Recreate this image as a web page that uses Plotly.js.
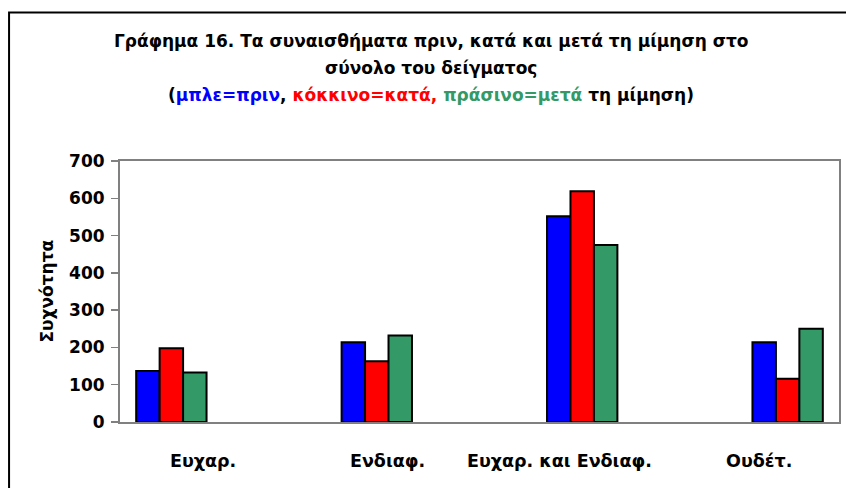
<!DOCTYPE html>
<html>
<head>
<meta charset="utf-8">
<script src="https://cdn.plot.ly/plotly-3.0.1.min.js"></script>
<style>html,body{margin:0;padding:0;background:#fff;}#chart{width:846px;height:488px;}</style>
</head>
<body>
<div id="chart"></div>
<script>
// Data
const categories = ["Ευχαρ.", "Ενδιαφ.", "Ευχαρ. και Ενδιαφ.", "Ουδέτ."];
const prin = [137, 214, 552, 214];   // μπλε = πριν
const kata = [198, 163, 619, 116];   // κόκκινο = κατά
const meta = [133, 232, 475, 250];   // πράσινο = μετά
const yTicks = [0, 100, 200, 300, 400, 500, 600, 700];

// Layout helpers (positions/styles)
const labelPaperX = [0.1154, 0.3725, 0.6116, 0.8882];
const FONT = "DejaVu Sans, Verdana, sans-serif";
const xpos = categories.map((c, i) => 2 * i);

function barTrace(vals, color, name) {
  return {
    type: "bar", x: xpos, y: vals, name: name,
    marker: {color: color, line: {color: "#000000", width: 2}},
    hoverinfo: "y"
  };
}

const data = [
  barTrace(prin, "#0000FF", "πριν"),
  barTrace(kata, "#FF0000", "κατά"),
  barTrace(meta, "#339966", "μετά")
];

const annotations = [
  {text: "Γράφημα 16. Τα συναισθήματα πριν, κατά και μετά τη μίμηση στο", y: (422 - 41.5) / 261},
  {text: "σύνολο του δείγματος", y: (422 - 68) / 261},
  {text: '(<span style="color:#0000FF">μπλε=πριν</span>, <span style="color:#FF0000">κόκκινο=κατά,</span> <span style="color:#339966">πράσινο=μετά</span> τη μίμηση)', y: (422 - 95) / 261}
].map(a => ({
  text: a.text, xref: "paper", yref: "paper", x: 0.433, y: a.y,
  xanchor: "center", yanchor: "middle", showarrow: false,
  font: {family: FONT, size: 17, color: "#000000", weight: "bold"}
}));

categories.forEach((c, i) => annotations.push({
  text: c, xref: "paper", yref: "paper", x: labelPaperX[i], y: (422 - 461) / 261,
  xanchor: "center", yanchor: "middle", showarrow: false,
  font: {family: FONT, size: 17.5, color: "#000000", weight: "bold"}
}));

annotations.push({
  text: "Συχνότητα", xref: "paper", yref: "paper", x: (46 - 120) / 719.4, y: 0.5,
  xanchor: "center", yanchor: "middle", textangle: -90, showarrow: false,
  font: {family: FONT, size: 17, color: "#000000", weight: "bold"}
});

const layout = {
  width: 846, height: 488,
  margin: {l: 120, r: 7, t: 161, b: 66, pad: 0},
  paper_bgcolor: "#FFFFFF", plot_bgcolor: "#FFFFFF",
  showlegend: false,
  barmode: "group", bargap: 0.6575, bargroupgap: 0,
  font: {family: FONT, color: "#000000"},
  xaxis: {
    type: "linear", range: [-0.5, 6.5], showticklabels: false, ticks: "",
    showgrid: false, zeroline: false, showline: true, mirror: true,
    linecolor: "#808080", linewidth: 2, fixedrange: true
  },
  yaxis: {
    range: [0, 700], tickvals: yTicks, ticktext: yTicks.map(String),
    ticks: "outside", ticklen: 7, tickwidth: 1.5, tickcolor: "#808080",
    ticklabelstandoff: 3,
    showgrid: false, zeroline: false, showline: true, mirror: true,
    linecolor: "#808080", linewidth: 2,
    tickfont: {family: FONT, size: 17, color: "#000000", weight: "bold"},
    fixedrange: true
  },
  annotations: annotations,
  shapes: [{
    type: "path", xref: "paper", yref: "paper",
    path: "M " + ((9 - 120) / 719.4) + "," + ((422 - 500) / 261) +
          " L " + ((9 - 120) / 719.4) + "," + ((422 - 12.5) / 261) +
          " L " + ((860 - 120) / 719.4) + "," + ((422 - 12.5) / 261),
    line: {color: "#000000", width: 2}
  }]
};

Plotly.newPlot("chart", data, layout, {displayModeBar: false, staticPlot: true});
</script>
</body>
</html>
